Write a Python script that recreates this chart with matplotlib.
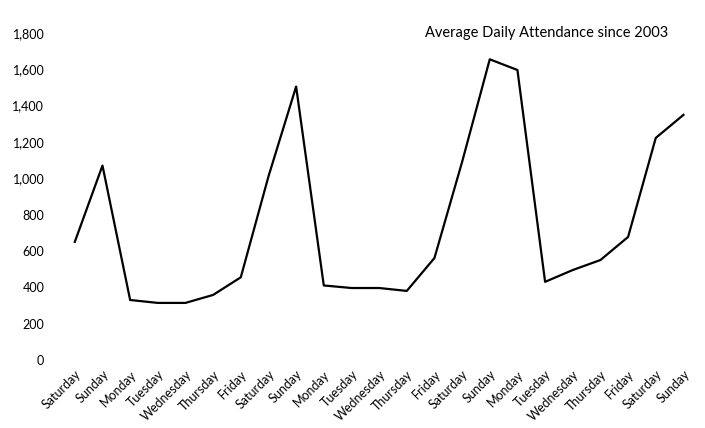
import matplotlib
matplotlib.use("Agg")
from matplotlib import pyplot as plt

# day labels along the x axis (three weeks-ish, starting Saturday)
days = ["Saturday", "Sunday", "Monday", "Tuesday", "Wednesday", "Thursday", "Friday",
        "Saturday", "Sunday", "Monday", "Tuesday", "Wednesday", "Thursday", "Friday",
        "Saturday", "Sunday", "Monday", "Tuesday", "Wednesday", "Thursday", "Friday",
        "Saturday", "Sunday"]

# average daily attendance
attendance = [650, 1070, 330, 314, 314, 358, 455,
              1010, 1505, 410, 396, 396, 380, 561,
              1090, 1655, 1596, 430, 495, 550, 677,
              1222, 1349]

y_ticks = [0, 200, 400, 600, 800, 1000, 1200, 1400, 1600, 1800]
y_labels = ["0", "200", "400", "600", "800", "1,000", "1,200", "1,400", "1,600", "1,800"]

title = "Average Daily Attendance since 2003"

plt.rcParams['font.family'] = ['Lato', 'DejaVu Sans']

fig = plt.figure(figsize=(7.05, 4.28), dpi=100)
ax = fig.add_axes([0.0865, 0.159, 0.9025, 0.764])

x = list(range(len(days)))
ax.plot(x, attendance, color="black", linewidth=1.6)

ax.set_xlim(-0.5, len(days) - 0.5)
ax.set_ylim(0, 1800)
ax.set_xticks(x)
ax.set_xticklabels(days, rotation=45, ha="right", rotation_mode="anchor", fontsize=9)
ax.set_yticks(y_ticks)
ax.set_yticklabels(y_labels, fontsize=9)
ax.tick_params(axis="both", length=0, colors="black")
ax.tick_params(axis="y", pad=12)
ax.tick_params(axis="x", pad=6)
for s in ax.spines.values():
    s.set_visible(False)

ax.text(0.954, 1.0, title, transform=ax.transAxes, ha="right", va="center",
        fontsize=10.5, color="black")

fig.savefig("out.png", dpi=100)
